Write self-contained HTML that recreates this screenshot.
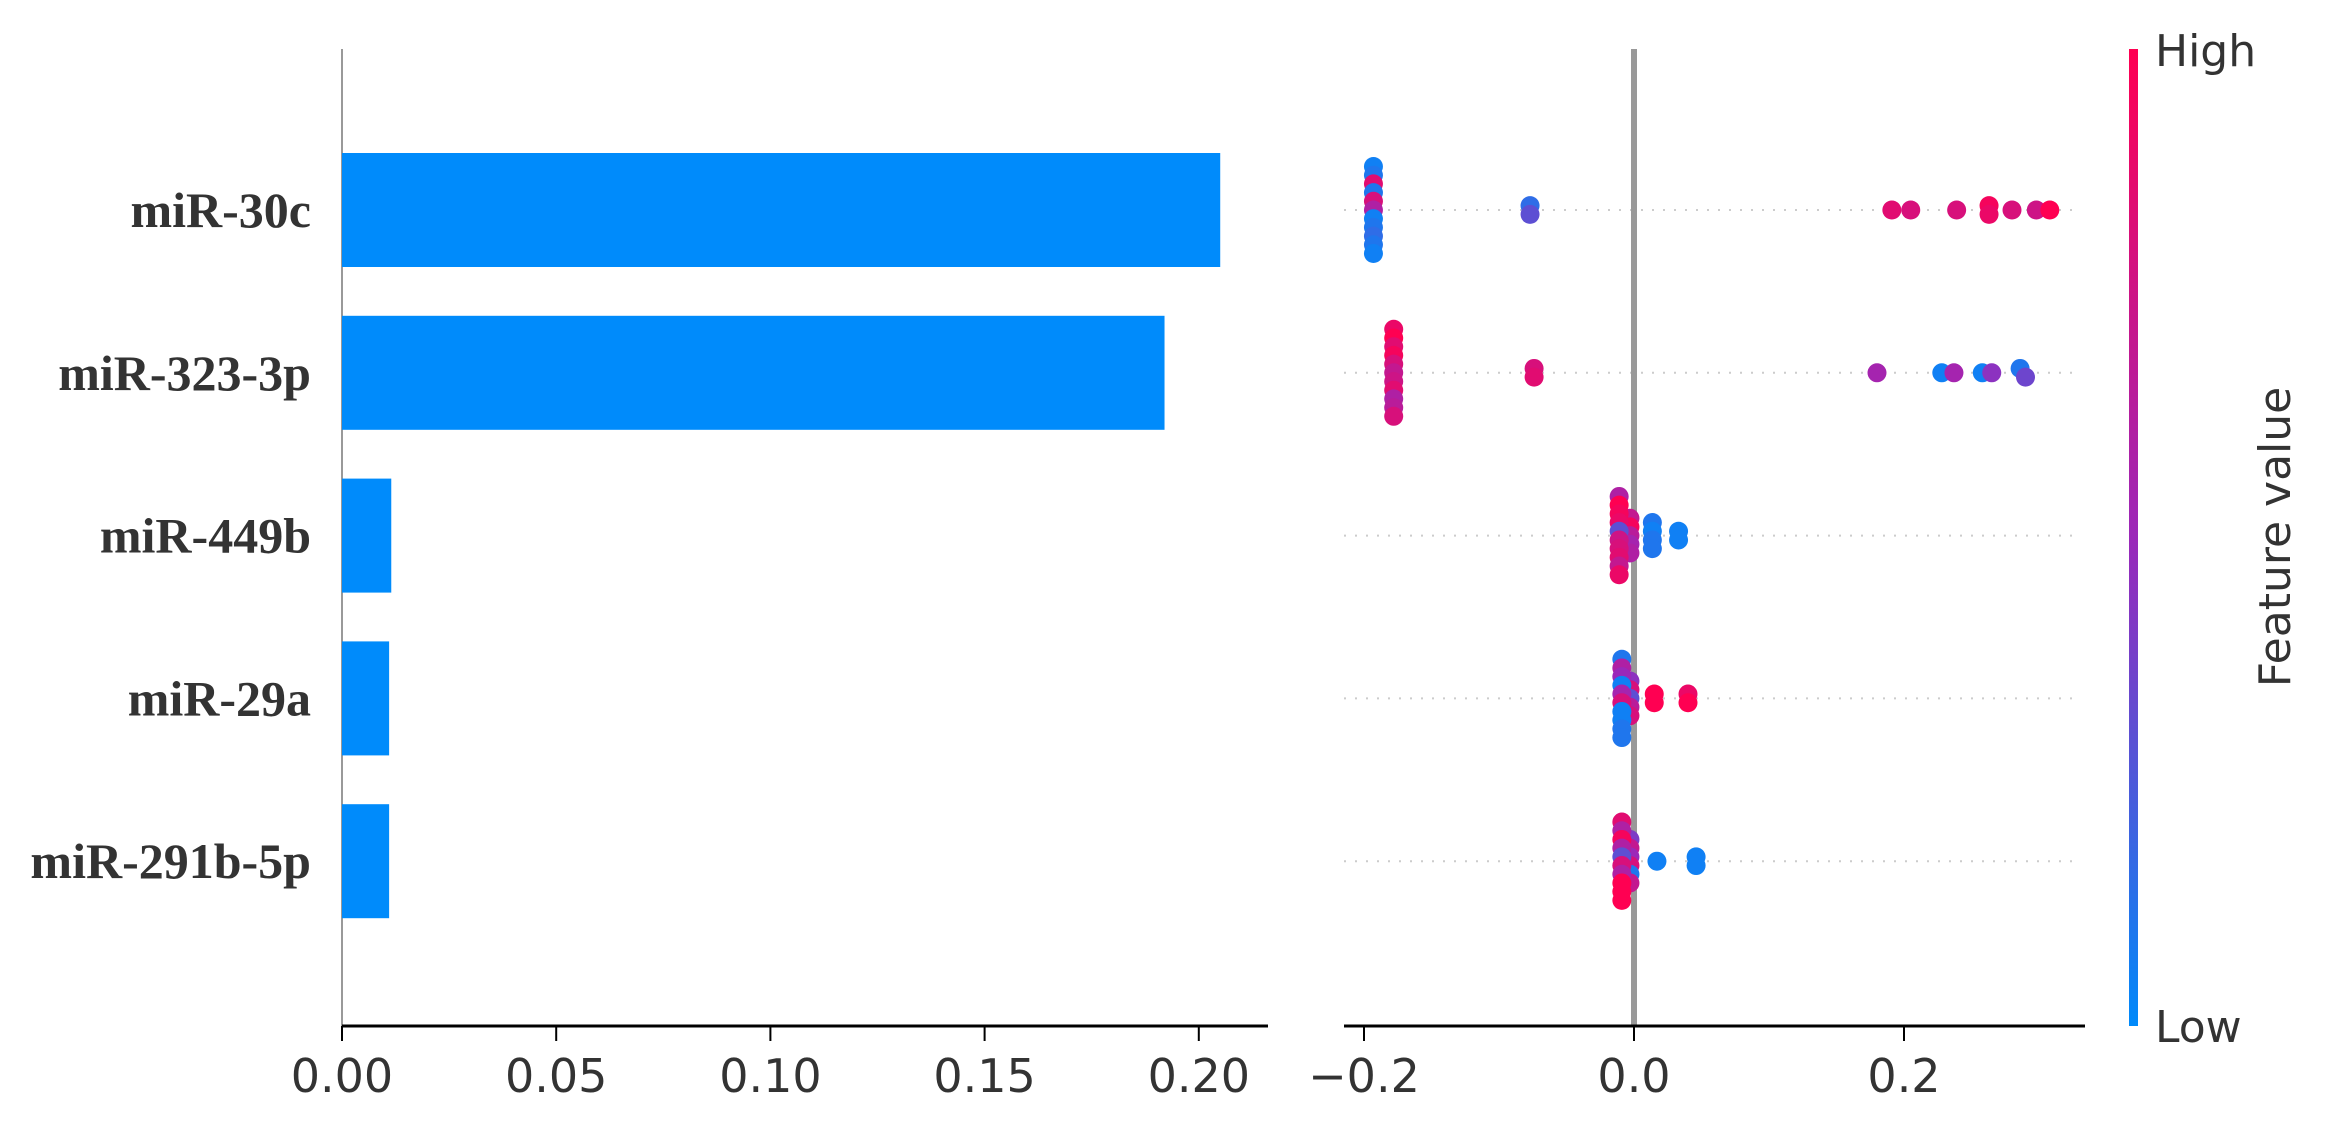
<!DOCTYPE html>
<html><head><meta charset="utf-8"><style>
html,body{margin:0;padding:0;background:#fff;}
svg{display:block;}
text{font-family:"DejaVu Sans","Liberation Sans",sans-serif;}
</style></head><body>
<svg id="chart" width="2336" height="1124" viewBox="0 0 2336 1124" xmlns="http://www.w3.org/2000/svg">
<defs>
<linearGradient id="cbar" x1="0" y1="1" x2="0" y2="0">
<stop offset="0" stop-color="rgb(0,138,250)"/>
<stop offset="0.5" stop-color="rgb(155,40,185)"/>
<stop offset="1" stop-color="rgb(255,0,82)"/>
</linearGradient>
</defs>
<g id="left"></g>
<g id="right"></g>
<g id="cb"></g>
</svg>
<script>
const features = ["miR-30c","miR-323-3p","miR-449b","miR-29a","miR-291b-5p"];
const importance = [0.205, 0.192, 0.0115, 0.011, 0.011];
const barTicks = [0, 0.05, 0.10, 0.15, 0.20];
const barTickLabels = ["0.00","0.05","0.10","0.15","0.20"];
const shapTicks = [-0.2, 0.0, 0.2];
const shapTickLabels = ["\u22120.2","0.0","0.2"];
// SHAP values per feature
const shap0 = [-0.193,-0.193,-0.193,-0.193,-0.193,-0.193,-0.193,-0.193,-0.193,-0.193,-0.193,-0.077,-0.077,0.191,0.205,0.239,0.263,0.263,0.280,0.298,0.308];
const fval0 = [0.05,0.1,0.85,0.1,0.8,0.6,0.05,0.1,0.15,0.1,0.05,0.15,0.3,0.85,0.8,0.8,0.95,0.9,0.8,0.75,1.0];
const shap1 = [-0.178,-0.178,-0.178,-0.178,-0.178,-0.178,-0.178,-0.178,-0.178,-0.178,-0.178,-0.074,-0.074,0.180,0.228,0.237,0.258,0.265,0.286,0.290];
const fval1 = [0.9,1.0,0.85,0.95,0.8,0.7,0.75,0.85,0.6,0.65,0.8,0.8,0.85,0.55,0.05,0.55,0.05,0.45,0.1,0.35];
const shap2 = [-0.011,-0.011,-0.011,-0.011,-0.011,-0.011,-0.011,-0.011,-0.011,-0.011,-0.003,-0.003,-0.003,-0.003,-0.003,0.0136,0.0136,0.0136,0.0136,0.033,0.033];
const fval2 = [0.6,1.0,0.95,0.9,0.3,0.75,0.8,0.85,0.7,0.9,0.7,0.95,0.65,0.55,0.6,0.1,0.05,0.1,0.1,0.05,0.05];
const shap3 = [-0.009,-0.009,-0.009,-0.009,-0.009,-0.009,-0.009,-0.009,-0.009,-0.009,-0.003,-0.003,-0.003,-0.003,-0.003,0.015,0.015,0.040,0.040];
const fval3 = [0.1,0.6,0.5,0.05,0.55,0.8,0.05,0.05,0.1,0.1,0.45,0.8,0.3,0.65,0.8,1.0,1.0,0.9,1.0];
const shap4 = [-0.009,-0.009,-0.009,-0.009,-0.009,-0.009,-0.009,-0.009,-0.009,-0.009,-0.003,-0.003,-0.003,-0.003,-0.003,-0.003,0.017,0.046,0.046];
const fval4 = [0.85,0.6,0.95,0.6,0.3,0.8,0.6,1.0,1.0,1.0,0.4,0.7,0.5,0.8,0.1,0.7,0.05,0.05,0.05];
const shapAll = [shap0,shap1,shap2,shap3,shap4];
const fvalAll = [fval0,fval1,fval2,fval3,fval4];

const NS="http://www.w3.org/2000/svg";
function mk(tag,attrs,parent){const e=document.createElementNS(NS,tag);for(const k in attrs)e.setAttribute(k,attrs[k]);parent.appendChild(e);return e;}
const rowY = i => 210 + i*162.8;
const axisY = 1026;
const bx = v => 342 + v*4284;
const sx = v => 1634 + v*1350;
function color(t){
  const a=[0,138,250], m=[155,40,185], b=[255,0,82];
  let c;
  if(t<0.5){const u=t/0.5;c=a.map((x,i)=>Math.round(x+(m[i]-x)*u));}
  else{const u=(t-0.5)/0.5;c=m.map((x,i)=>Math.round(x+(b[i]-x)*u));}
  return "rgb("+c.join(",")+")";
}
const L=document.getElementById('left'), R=document.getElementById('right'), C=document.getElementById('cb');

let e=mk('line',{x1:342,y1:49,x2:342,y2:axisY,stroke:'#999','stroke-width':2},L);


features.forEach((f,i)=>{
  const r=mk('rect',{x:bx(0),y:rowY(i)-57,width:bx(importance[i])-bx(0),height:114,fill:'#008bfb'},L);
  
  
  const t=mk('text',{x:311,y:rowY(i)+17,'text-anchor':'end','font-size':50,'font-weight':'bold',fill:'#333',style:'font-family:"Liberation Serif",serif'},L);
  t.textContent=f;
  
  
});
e=mk('line',{x1:342,y1:axisY,x2:1268,y2:axisY,stroke:'#000','stroke-width':3},L);


barTicks.forEach((v,i)=>{
  const tk=mk('line',{x1:bx(v),y1:axisY,x2:bx(v),y2:axisY+15,stroke:'#000','stroke-width':2},L);
  
  
  const t=mk('text',{x:bx(v),y:1092,'text-anchor':'middle','font-size':46,fill:'#333'},L);
  t.textContent=barTickLabels[i];
  
  
});

features.forEach((f,i)=>{
  const d=mk('line',{x1:1344,y1:rowY(i),x2:2075,y2:rowY(i),stroke:'#ccc','stroke-width':2,'stroke-dasharray':'2 9'},R);
  
  
});
e=mk('line',{x1:sx(0),y1:49,x2:sx(0),y2:axisY,stroke:'#999','stroke-width':6},R);


shapAll.forEach((arr,i)=>{
  const bins={};
  arr.forEach((v,j)=>{
    const k=Math.round(v/0.006);
    bins[k]=bins[k]||[];bins[k].push(j);
  });
  Object.values(bins).forEach(list=>{
    const n=list.length;
    list.forEach((j,q)=>{
      const off=(q-(n-1)/2)*8.7;
      const c=mk('circle',{cx:sx(arr[j]),cy:rowY(i)+off,r:9.5,fill:color(fvalAll[i][j])},R);
      
      
    });
  });
});
e=mk('line',{x1:1344,y1:axisY,x2:2085,y2:axisY,stroke:'#000','stroke-width':3},R);


shapTicks.forEach((v,i)=>{
  const tk=mk('line',{x1:sx(v),y1:axisY,x2:sx(v),y2:axisY+15,stroke:'#000','stroke-width':2},R);
  
  
  const t=mk('text',{x:sx(v),y:1092,'text-anchor':'middle','font-size':46,fill:'#333'},R);
  t.textContent=shapTickLabels[i];
  
  
});

e=mk('rect',{x:2129,y:49,width:9,height:977,fill:'url(#cbar)'},C);


e=mk('text',{x:2155,y:66,'font-size':44,fill:'#333'},C);e.textContent='High';


e=mk('text',{x:2155,y:1042,'font-size':44,fill:'#333'},C);e.textContent='Low';


e=mk('text',{x:0,y:0,'font-size':44,fill:'#333','text-anchor':'middle',transform:'translate(2290,537) rotate(-90)'},C);e.textContent='Feature value';


</script>
</body></html>
